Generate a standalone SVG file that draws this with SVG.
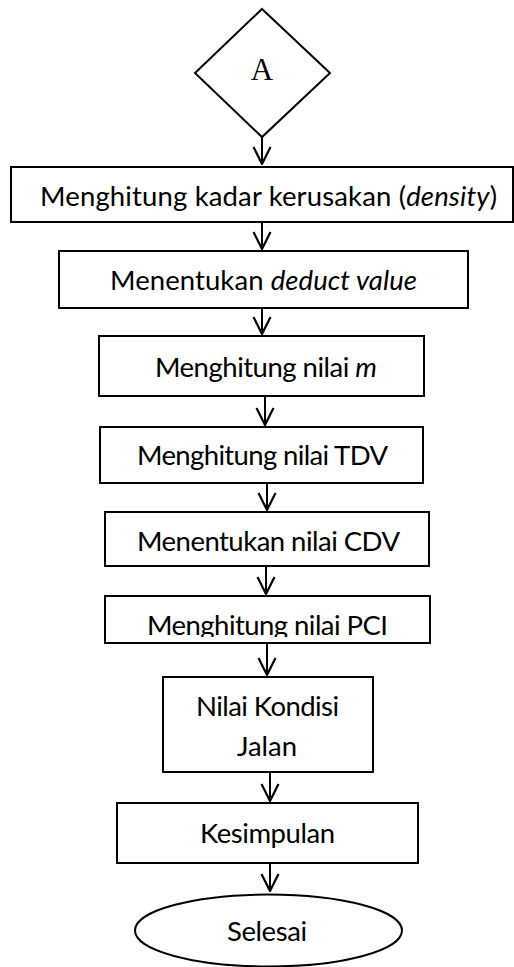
<svg xmlns="http://www.w3.org/2000/svg" width="514" height="967" viewBox="0 0 514 967">
<style>
.shape{fill:#fff;stroke:#000;stroke-width:2}
.lbl{font-family:Lato,"Open Sans","Liberation Sans",sans-serif;font-size:27.5px;fill:#000;text-anchor:middle}
.serif{font-family:"Liberation Serif","Times New Roman",serif;font-size:31px;fill:#000;text-anchor:middle}
.conn{fill:none;stroke:#000;stroke-width:2}
.it{font-style:italic}
</style>
<defs>
<marker id="arr" viewBox="-19 -10 20 20" refX="0" refY="0" markerWidth="20" markerHeight="20" markerUnits="userSpaceOnUse" orient="auto">
<path d="M-17,-8.5 L0,0 L-17,8.5" fill="none" stroke="#000" stroke-width="2.2"/>
</marker>
<clipPath id="clipPCI"><rect x="100" y="596" width="335" height="41"/></clipPath>
</defs>
<rect width="514" height="967" fill="#fff"/>
<g id="connectors">
<path class="conn" d="M262,137 V164" marker-end="url(#arr)"/>
<path class="conn" d="M262,222 V249" marker-end="url(#arr)"/>
<path class="conn" d="M262,308 V334" marker-end="url(#arr)"/>
<path class="conn" d="M265,396 V425" marker-end="url(#arr)"/>
<path class="conn" d="M267,483 V510" marker-end="url(#arr)"/>
<path class="conn" d="M266,566 V594" marker-end="url(#arr)"/>
<path class="conn" d="M267,643 V675" marker-end="url(#arr)"/>
<path class="conn" d="M270,772 V801" marker-end="url(#arr)"/>
<path class="conn" d="M270,863 V891" marker-end="url(#arr)"/>
</g>
<g id="nodeA">
<polygon class="shape" points="262,9 330,73 262,137 195,73"/>
<text class="serif" x="262" y="80">A</text>
</g>
<g id="node1">
<rect class="shape" x="11" y="167" width="502" height="55"/>
<text class="lbl" x="268.5" y="206" textLength="457">Menghitung kadar kerusakan (<tspan class="it">density</tspan>)</text>
</g>
<g id="node2">
<rect class="shape" x="59" y="251" width="409" height="57"/>
<text class="lbl" x="263.5" y="290" textLength="307">Menentukan <tspan class="it">deduct value</tspan></text>
</g>
<g id="node3">
<rect class="shape" x="99" y="336" width="325" height="60"/>
<text class="lbl" x="266" y="377" textLength="222">Menghitung nilai <tspan class="it">m</tspan></text>
</g>
<g id="node4">
<rect class="shape" x="100" y="427" width="323" height="56"/>
<text class="lbl" x="262.5" y="465" textLength="251">Menghitung nilai TDV</text>
</g>
<g id="node5">
<rect class="shape" x="105" y="512" width="324" height="54"/>
<text class="lbl" x="268.5" y="551" textLength="263">Menentukan nilai CDV</text>
</g>
<g id="node6">
<rect class="shape" x="105" y="596" width="325" height="47"/>
<text class="lbl" x="267.5" y="635" textLength="241" clip-path="url(#clipPCI)">Menghitung nilai PCI</text>
</g>
<g id="node7">
<rect class="shape" x="163" y="677" width="210" height="95"/>
<text class="lbl" x="267.5" y="716" textLength="143">Nilai Kondisi</text>
<text class="lbl" x="267" y="756" textLength="60">Jalan</text>
</g>
<g id="node8">
<rect class="shape" x="117" y="803" width="301" height="60"/>
<text class="lbl" x="267.5" y="843" textLength="135">Kesimpulan</text>
</g>
<g id="node9">
<ellipse class="shape" cx="268.5" cy="930.5" rx="133.5" ry="36"/>
<text class="lbl" x="267" y="941" textLength="80">Selesai</text>
</g>
</svg>
